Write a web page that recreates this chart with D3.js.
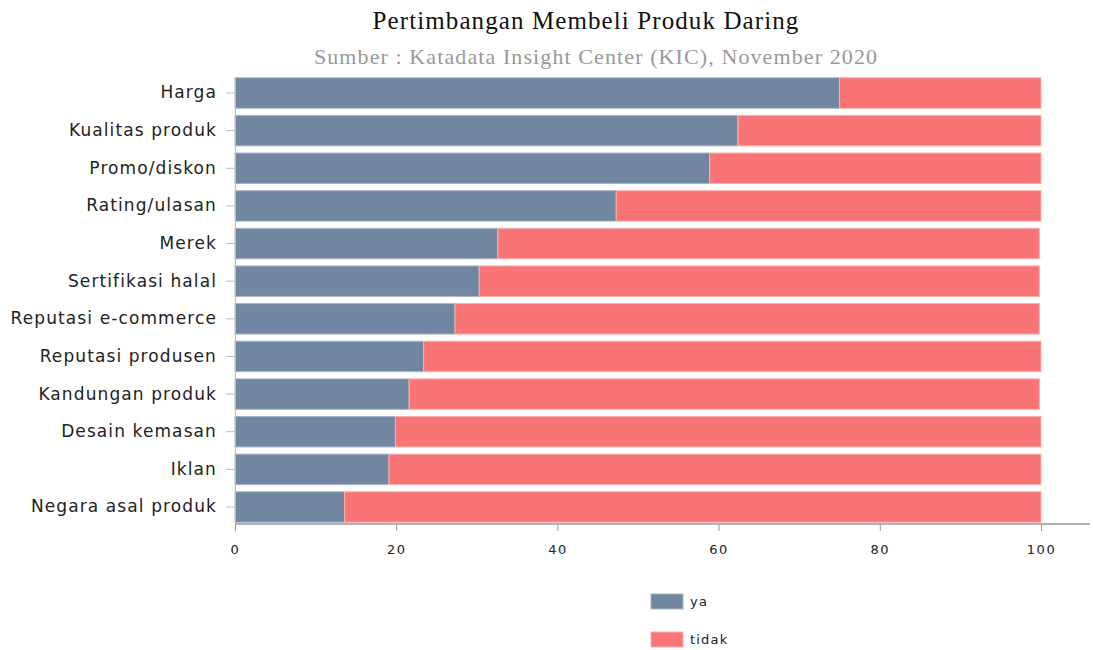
<!DOCTYPE html>
<html>
<head>
<meta charset="utf-8">
<script src="https://cdn.jsdelivr.net/npm/d3@7"></script>
<style>
  body { margin: 0; background: #fff; }
  #chart { width: 1093px; height: 650px; }
</style>
</head>
<body>
<div id="chart"></div>
<script>
const categories = [
    "Harga", "Kualitas produk", "Promo/diskon", "Rating/ulasan", "Merek",
    "Sertifikasi halal", "Reputasi e-commerce", "Reputasi produsen",
    "Kandungan produk", "Desain kemasan", "Iklan", "Negara asal produk"
];
const yaValues = [75.0, 62.4, 58.9, 47.3, 32.6, 30.3, 27.3, 23.4, 21.6, 19.9, 19.1, 13.6];
const tidakValues = [25.0, 37.6, 41.1, 52.7, 67.2, 69.5, 72.5, 76.6, 78.2, 80.1, 80.9, 86.4];
const seriesNames = ["ya", "tidak"];
const xTicks = [0, 20, 40, 60, 80, 100];

function renderStackedBars(selector = "#chart") {
    const container = d3.select(selector);
    container.html("");

    const width = 1093;
    const height = 650;
    const margin = { top: 77, right: 52, bottom: 128, left: 235 };

    const colors = { "ya": "#7186a0", "tidak": "#f97575" };
    const strokes = { "ya": "#a9b6c6", "tidak": "#fbb0b0" };

    const svg = container.append("svg")
        .attr("width", width)
        .attr("height", height)
        .style("display", "block");

    const rows = categories.map((c, i) => ({ category: c, ya: yaValues[i], tidak: tidakValues[i] }));
    const stacked = d3.stack().keys(seriesNames)(rows);

    const x = d3.scaleLinear()
        .domain([0, 100])
        .range([margin.left, 1041]);

    const y = d3.scaleBand()
        .domain(categories)
        .range([margin.top, height - margin.bottom + 1])
        .paddingInner(0.19)
        .paddingOuter(0.02);

    // title
    svg.append("text")
        .attr("x", 586)
        .attr("y", 29)
        .attr("text-anchor", "middle")
        .attr("fill", "#111")
        .style("font-family", "'Liberation Serif', 'Times New Roman', serif")
        .style("font-size", "25px")
        .style("letter-spacing", "1.1px")
        .text("Pertimbangan Membeli Produk Daring");

    svg.append("text")
        .attr("x", 596)
        .attr("y", 64)
        .attr("text-anchor", "middle")
        .attr("fill", "#999")
        .style("font-family", "'Liberation Serif', 'Times New Roman', serif")
        .style("font-size", "22px")
        .style("letter-spacing", "1.1px")
        .text("Sumber : Katadata Insight Center (KIC), November 2020");

    // bars
    const groups = svg.append("g").attr("class", "bars")
        .selectAll("g")
        .data(stacked)
        .join("g")
        .attr("fill", d => colors[d.key])
        .attr("stroke", d => strokes[d.key]);

    groups.selectAll("rect")
        .data(d => d)
        .join("rect")
        .attr("x", d => x(d[0]))
        .attr("y", d => y(d.data.category))
        .attr("width", d => x(d[1]) - x(d[0]))
        .attr("height", y.bandwidth())
        .attr("stroke-width", 1);

    // y axis
    const yAxis = svg.append("g")
        .attr("class", "y-axis")
        .attr("transform", `translate(${margin.left},0)`)
        .call(d3.axisLeft(y).tickSize(9).tickPadding(9).tickSizeOuter(0));
    yAxis.select(".domain").attr("stroke", "#bbb");
    yAxis.selectAll(".tick line").attr("stroke", "#bbb");
    yAxis.selectAll("text")
        .attr("fill", "#222")
        .style("font-family", "'DejaVu Sans', Verdana, sans-serif")
        .style("font-size", "17px")
        .style("letter-spacing", "1.1px");

    // x axis
    const axisY = 524;
    const xAxis = svg.append("g")
        .attr("class", "x-axis")
        .attr("transform", `translate(0,${axisY})`)
        .call(d3.axisBottom(x).tickValues(xTicks).tickSize(7).tickPadding(14).tickSizeOuter(0));
    xAxis.select(".domain")
        .attr("d", `M${margin.left},0H1090`)
        .attr("stroke", "#999")
        .attr("stroke-width", 1.5);
    xAxis.selectAll(".tick line").attr("stroke", "#999");
    xAxis.selectAll("text")
        .attr("fill", "#222")
        .style("font-family", "'DejaVu Sans', Verdana, sans-serif")
        .style("font-size", "13px")
        .style("letter-spacing", "1.5px");

    // legend
    const legend = svg.append("g")
        .attr("class", "legend")
        .attr("transform", "translate(651,594)");
    seriesNames.forEach((name, i) => {
        const g = legend.append("g").attr("transform", `translate(0,${i * 38})`);
        g.append("rect")
            .attr("width", 32)
            .attr("height", 15)
            .attr("fill", colors[name])
            .attr("stroke", strokes[name]);
        g.append("text")
            .attr("x", 39)
            .attr("y", 12)
            .attr("fill", "#222")
            .style("font-family", "'DejaVu Sans', Verdana, sans-serif")
            .style("font-size", "13px")
            .style("letter-spacing", "1.2px")
            .text(name);
    });
}

renderStackedBars();
</script>
</body>
</html>
